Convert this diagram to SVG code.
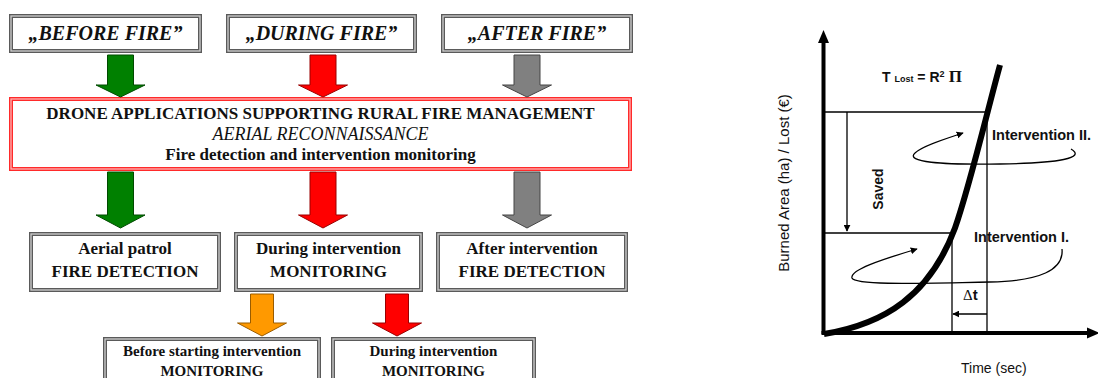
<svg xmlns="http://www.w3.org/2000/svg" width="1098" height="378" viewBox="0 0 1098 378">
<defs>
<style>
.bg{fill:#ffffff}
.fo{fill:#ffffff;stroke:#5a5a5a;stroke-width:4}
.fi{fill:none;stroke:#cfcfcf;stroke-width:1.3}
.ro{fill:#ffffff;stroke:#ff2a2a;stroke-width:4}
.ri{fill:none;stroke:#ffb4b4;stroke-width:1.3}
.ttl{font-family:"Liberation Serif","Times New Roman",serif;font-weight:bold;font-style:italic;font-size:20px;fill:#111;text-anchor:middle}
.t17{font-family:"Liberation Serif","Times New Roman",serif;font-weight:bold;font-size:17px;fill:#111;text-anchor:middle}
.t15{font-family:"Liberation Serif","Times New Roman",serif;font-weight:bold;font-size:15px;fill:#111;text-anchor:middle}
.it{font-family:"Liberation Serif","Times New Roman",serif;font-style:italic;font-size:18px;fill:#111;text-anchor:middle}
.green{fill:#008000;stroke:#004a00;stroke-width:1}
.red{fill:#ff0000;stroke:#9a0000;stroke-width:1}
.gray{fill:#808080;stroke:#454545;stroke-width:1}
.orange{fill:#ff9900;stroke:#9a5c00;stroke-width:1}
.ax{stroke:#000;stroke-width:4;fill:none}
.ln{stroke:#000;stroke-width:1.3;fill:none}
.cs{font-family:"Liberation Sans",Arial,sans-serif;fill:#111}
.bold{font-weight:bold}
</style>
<marker id="ah" viewBox="0 0 10 10" refX="9" refY="5" markerWidth="7" markerHeight="7" orient="auto" markerUnits="userSpaceOnUse">
<path d="M0,0 L10,5 L0,10 z" fill="#000"/>
</marker>
</defs>
<rect class="bg" x="0" y="0" width="1098" height="378"/>

<g id="before-fire">
<rect class="fo" x="11" y="16" width="189" height="35"/>
<rect class="fi" x="11" y="16" width="189" height="35"/>
<text class="ttl" x="105.5" y="40">„BEFORE FIRE”</text>
</g>
<g id="during-fire">
<rect class="fo" x="228" y="16" width="187" height="35"/>
<rect class="fi" x="228" y="16" width="187" height="35"/>
<text class="ttl" x="321.5" y="40">„DURING FIRE”</text>
</g>
<g id="after-fire">
<rect class="fo" x="443" y="16" width="188" height="35"/>
<rect class="fi" x="443" y="16" width="188" height="35"/>
<text class="ttl" x="537" y="40">„AFTER FIRE”</text>
</g>

<g id="drone-applications">
<rect class="ro" x="11" y="99" width="619" height="70"/>
<rect class="ri" x="11" y="99" width="619" height="70"/>
<text class="t17" x="320.5" y="119">DRONE APPLICATIONS SUPPORTING RURAL FIRE MANAGEMENT</text>
<text class="it" x="320.5" y="140">AERIAL RECONNAISSANCE</text>
<text class="t17" x="320.5" y="160">Fire detection and intervention monitoring</text>
</g>

<g id="aerial-patrol">
<rect class="fo" x="31" y="234" width="188" height="56"/>
<rect class="fi" x="31" y="234" width="188" height="56"/>
<text class="t17" x="125" y="254">Aerial patrol</text>
<text class="t17" x="125" y="277">FIRE DETECTION</text>
</g>
<g id="during-intervention">
<rect class="fo" x="236" y="234" width="185" height="56"/>
<rect class="fi" x="236" y="234" width="185" height="56"/>
<text class="t17" x="328.5" y="254">During intervention</text>
<text class="t17" x="328.5" y="277">MONITORING</text>
</g>
<g id="after-intervention">
<rect class="fo" x="438" y="234" width="188" height="56"/>
<rect class="fi" x="438" y="234" width="188" height="56"/>
<text class="t17" x="532" y="254">After intervention</text>
<text class="t17" x="532" y="277">FIRE DETECTION</text>
</g>

<g id="before-starting">
<rect class="fo" x="105" y="339" width="214" height="50"/>
<rect class="fi" x="105" y="339" width="214" height="50"/>
<text class="t15" x="212" y="356">Before starting intervention</text>
<text class="t15" x="212" y="376">MONITORING</text>
</g>
<g id="during-intervention-2">
<rect class="fo" x="333" y="339" width="201" height="50"/>
<rect class="fi" x="333" y="339" width="201" height="50"/>
<text class="t15" x="433.5" y="356">During intervention</text>
<text class="t15" x="433.5" y="376">MONITORING</text>
</g>

<g id="connectors">
<polygon class="green" points="107.5,55 133.5,55 133.5,85 145,85 120.5,97 96,85 107.5,85"/>
<polygon class="red" points="310,55 336,55 336,85 347.5,85 323,97 298.5,85 310,85"/>
<polygon class="gray" points="514,55 540,55 540,85 551.5,85 527,97 502.5,85 514,85"/>
<polygon class="green" points="107.5,172 133.5,172 133.5,215 145,215 120.5,228 96,215 107.5,215"/>
<polygon class="red" points="310,172 336,172 336,215 347.5,215 323,228 298.5,215 310,215"/>
<polygon class="gray" points="514,172 540,172 540,215 551.5,215 527,228 502.5,215 514,215"/>
<polygon class="orange" points="250.5,294 273.5,294 273.5,323 286.5,323 262,336 237.5,323 250.5,323"/>
<polygon class="red" points="385.5,294 408.5,294 408.5,323 421.5,323 397,336 372.5,323 385.5,323"/>
</g>

<g id="chart">
<line class="ax" x1="823.5" y1="40" x2="823.5" y2="334"/>
<polygon points="823.5,30 818,43 829,43" fill="#000"/>
<line class="ax" x1="821.5" y1="333" x2="1090" y2="333"/>
<polygon points="1100,333 1087,327.5 1087,338.5" fill="#000"/>
<line class="ln" x1="823" y1="112" x2="987" y2="112"/>
<line class="ln" x1="987" y1="112" x2="987" y2="332"/>
<line class="ln" x1="847" y1="112" x2="847" y2="231" marker-end="url(#ah)"/>
<line class="ln" x1="823" y1="233" x2="952" y2="233"/>
<line class="ln" x1="952" y1="233" x2="952" y2="332"/>
<line class="ln" x1="987" y1="314" x2="953" y2="314" marker-end="url(#ah)"/>
<path d="M1071,149 C1086,158 1060,163 1000,164 C940,165 905,162 915,153 C922,146 945,139 963,133" class="ln" marker-end="url(#ah)"/>
<path d="M1062,249 C1064,270 1040,281 990,282 C930,283 855,286 852,278 C850,270 880,260 917,249" class="ln" marker-end="url(#ah)"/>
<path d="M824,334 C885,324 930,295 955,228 C970,185 985,120 1000,65" stroke="#000" stroke-width="6" fill="none" stroke-linecap="butt"/>
<text class="cs bold" x="882" y="82" font-size="14">T <tspan font-size="9">Lost</tspan> = R<tspan font-size="9" dy="-5">2</tspan><tspan dy="5" font-family="Liberation Serif,serif" font-size="17"> Π</tspan></text>
<text class="cs bold" x="992" y="139.5" font-size="14.5">Intervention II.</text>
<text class="cs bold" x="974" y="242" font-size="14.5">Intervention I.</text>
<text class="cs bold" font-size="14" text-anchor="middle" transform="translate(883,189) rotate(-90)">Saved</text>
<text class="cs" font-size="15" text-anchor="middle" fill="#222" transform="translate(788.5,183) rotate(-90)">Burned Area (ha) / Lost (€)</text>
<text class="cs" font-size="14" x="961" y="373">Time (sec)</text>
<text class="cs" font-size="15" x="963" y="300"><tspan font-family="Liberation Serif,serif">Δ</tspan><tspan font-weight="bold">t</tspan></text>
</g>
</svg>
